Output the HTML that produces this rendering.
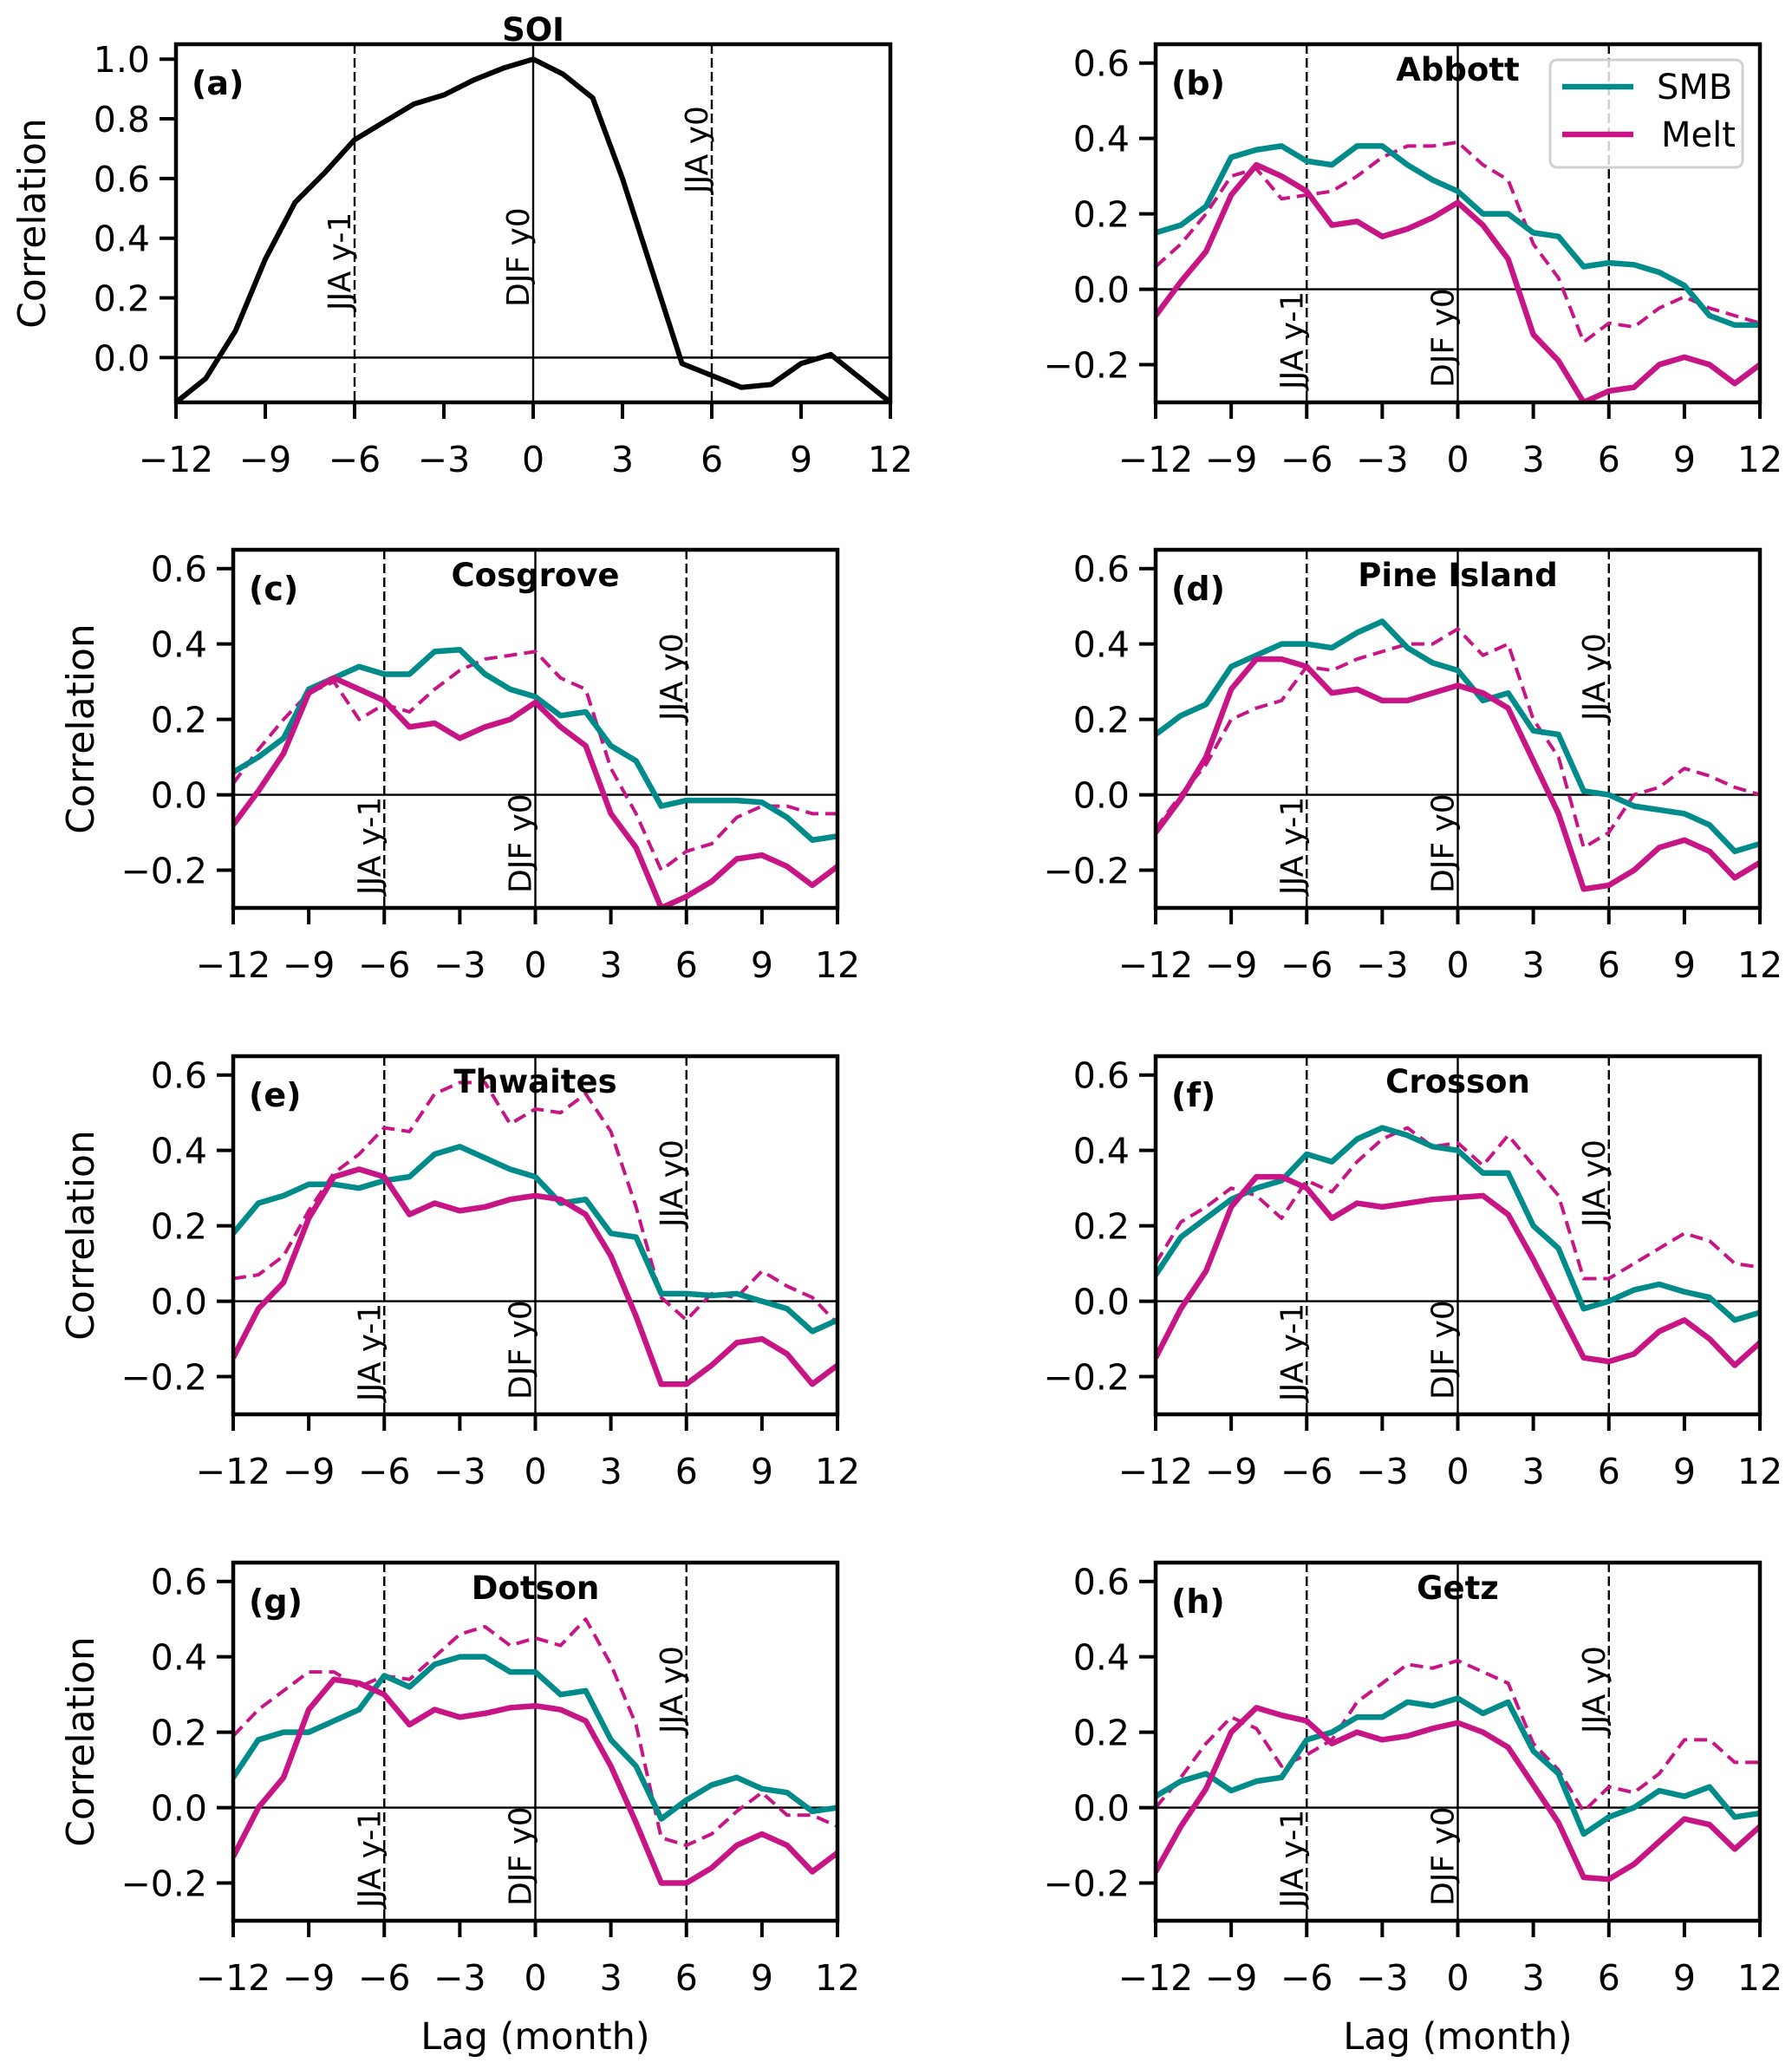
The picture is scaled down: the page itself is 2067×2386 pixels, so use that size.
<!DOCTYPE html>
<html><head><meta charset="utf-8"><style>
html,body{margin:0;padding:0;background:#fff;}
svg{display:block;font-family:"DejaVu Sans","Liberation Sans",sans-serif;}
</style></head><body>
<svg id="fig" width="2067" height="2386" viewBox="0 0 2067 2386" xmlns="http://www.w3.org/2000/svg"></svg>
<script>
const lags = [-12,-11,-10,-9,-8,-7,-6,-5,-4,-3,-2,-1,0,1,2,3,4,5,6,7,8,9,10,11,12];
const xTicks = [-12,-9,-6,-3,0,3,6,9,12];
const yTicksSOI = [0.0,0.2,0.4,0.6,0.8,1.0];
const yTicksIce = [-0.2,0.0,0.2,0.4,0.6];
const panelNames = ["Abbott","Cosgrove","Pine Island","Thwaites","Crosson","Dotson","Getz"];
const soi = [-0.15,-0.07,0.09,0.33,0.52,0.62,0.73,0.79,0.85,0.88,0.93,0.97,1.0,0.95,0.87,0.6,0.29,-0.02,-0.06,-0.1,-0.09,-0.02,0.01,-0.07,-0.15];
const smbB = [0.15,0.17,0.22,0.35,0.37,0.38,0.34,0.33,0.38,0.38,0.33,0.29,0.26,0.2,0.2,0.15,0.14,0.06,0.07,0.065,0.045,0.01,-0.07,-0.095,-0.095];
const meltB = [-0.07,0.02,0.1,0.25,0.33,0.3,0.26,0.17,0.18,0.14,0.16,0.19,0.23,0.17,0.08,-0.12,-0.19,-0.3,-0.27,-0.26,-0.2,-0.18,-0.2,-0.25,-0.2];
const dashB = [0.06,0.12,0.2,0.3,0.32,0.24,0.25,0.26,0.3,0.35,0.38,0.38,0.39,0.33,0.29,0.12,0.03,-0.14,-0.09,-0.1,-0.05,-0.02,-0.05,-0.07,-0.09];
const smbC = [0.06,0.1,0.15,0.28,0.31,0.34,0.32,0.32,0.38,0.385,0.32,0.28,0.26,0.21,0.22,0.13,0.09,-0.03,-0.015,-0.015,-0.015,-0.02,-0.06,-0.12,-0.11];
const meltC = [-0.08,0.01,0.11,0.27,0.31,0.28,0.25,0.18,0.19,0.15,0.18,0.2,0.245,0.18,0.13,-0.05,-0.14,-0.3,-0.27,-0.23,-0.17,-0.16,-0.19,-0.24,-0.19];
const dashC = [0.03,0.12,0.2,0.27,0.3,0.2,0.24,0.22,0.28,0.33,0.36,0.37,0.38,0.31,0.28,0.07,-0.05,-0.2,-0.15,-0.13,-0.06,-0.03,-0.03,-0.05,-0.05];
const smbD = [0.16,0.21,0.24,0.34,0.37,0.4,0.4,0.39,0.43,0.46,0.39,0.35,0.33,0.25,0.27,0.17,0.16,0.01,0.0,-0.03,-0.04,-0.05,-0.08,-0.15,-0.13];
const meltD = [-0.1,-0.01,0.1,0.28,0.36,0.36,0.34,0.27,0.28,0.25,0.25,0.27,0.29,0.27,0.23,0.09,-0.05,-0.25,-0.24,-0.2,-0.14,-0.12,-0.15,-0.22,-0.18];
const dashD = [-0.09,0.0,0.08,0.2,0.23,0.25,0.34,0.33,0.36,0.38,0.4,0.4,0.44,0.37,0.4,0.2,0.1,-0.14,-0.1,0.0,0.02,0.07,0.05,0.02,0.0];
const smbE = [0.18,0.26,0.28,0.31,0.31,0.3,0.32,0.33,0.39,0.41,0.38,0.35,0.33,0.26,0.27,0.18,0.17,0.02,0.02,0.015,0.02,0.0,-0.02,-0.08,-0.05];
const meltE = [-0.15,-0.02,0.05,0.22,0.33,0.35,0.33,0.23,0.26,0.24,0.25,0.27,0.28,0.27,0.23,0.12,-0.04,-0.22,-0.22,-0.17,-0.11,-0.1,-0.14,-0.22,-0.17];
const dashE = [0.06,0.07,0.12,0.24,0.34,0.39,0.46,0.45,0.55,0.58,0.58,0.47,0.51,0.5,0.55,0.45,0.25,0.01,-0.05,0.02,0.01,0.08,0.04,0.01,-0.06];
const smbF = [0.07,0.17,0.22,0.27,0.3,0.32,0.39,0.37,0.43,0.46,0.44,0.41,0.4,0.34,0.34,0.2,0.14,-0.02,0.0,0.03,0.045,0.025,0.01,-0.05,-0.03];
const meltF = [-0.15,-0.02,0.08,0.25,0.33,0.33,0.3,0.22,0.26,0.25,0.26,0.27,0.275,0.28,0.23,0.11,-0.02,-0.15,-0.16,-0.14,-0.08,-0.05,-0.1,-0.17,-0.11];
const dashF = [0.1,0.21,0.25,0.3,0.28,0.22,0.32,0.29,0.37,0.43,0.46,0.41,0.42,0.36,0.44,0.36,0.28,0.06,0.06,0.1,0.14,0.18,0.16,0.1,0.09];
const smbG = [0.08,0.18,0.2,0.2,0.23,0.26,0.35,0.32,0.38,0.4,0.4,0.36,0.36,0.3,0.31,0.18,0.11,-0.03,0.02,0.06,0.08,0.05,0.04,-0.01,0.0];
const meltG = [-0.13,0.0,0.08,0.26,0.34,0.33,0.3,0.22,0.26,0.24,0.25,0.265,0.27,0.26,0.23,0.11,-0.04,-0.2,-0.2,-0.16,-0.1,-0.07,-0.1,-0.17,-0.12];
const dashG = [0.19,0.26,0.31,0.36,0.36,0.32,0.35,0.34,0.4,0.46,0.48,0.43,0.45,0.43,0.5,0.38,0.22,-0.08,-0.1,-0.07,-0.01,0.04,-0.02,-0.02,-0.05];
const smbH = [0.03,0.07,0.09,0.045,0.07,0.08,0.18,0.2,0.24,0.24,0.28,0.27,0.29,0.25,0.28,0.15,0.09,-0.07,-0.025,0.0,0.045,0.03,0.055,-0.025,-0.015];
const meltH = [-0.17,-0.05,0.05,0.2,0.265,0.245,0.23,0.17,0.2,0.18,0.19,0.21,0.225,0.2,0.16,0.06,-0.04,-0.185,-0.19,-0.15,-0.09,-0.03,-0.045,-0.11,-0.05];
const dashH = [0.0,0.08,0.17,0.24,0.21,0.11,0.14,0.18,0.28,0.33,0.38,0.37,0.39,0.36,0.33,0.17,0.1,-0.01,0.055,0.04,0.09,0.18,0.18,0.12,0.12];

const NS = "http://www.w3.org/2000/svg";
const svg = document.getElementById('fig');
function mk(tag, attrs, parent){
  const e = document.createElementNS(NS, tag);
  for (const k in attrs) e.setAttribute(k, attrs[k]);
  (parent||svg).appendChild(e);
  return e;
}
const TEAL = "#008b8b", MAG = "#c71585";
const fmtX = v => v < 0 ? "\u2212" + Math.abs(v) : String(v);
const fmtY = v => (v < 0 ? "\u2212" : "") + Math.abs(v).toFixed(1);

function panel(cfg){
  const g = mk('g', {});
  
  
  const L = cfg.x0, R = cfg.x1, T = cfg.y0, B = cfg.y0 + 413;
  const xs = v => L + (v + 12) / 24 * (R - L);
  const ys = v => B - (v - cfg.ymin) / (cfg.ymax - cfg.ymin) * (B - T);
  const z = mk('line', {x1:L, x2:R, y1:ys(0), y2:ys(0), stroke:'#000', 'stroke-width':2.4}, g);
  
  
  [[-6,true],[0,false],[6,true]].forEach(([v,d])=>{
    const l = mk('line', {x1:xs(v), x2:xs(v), y1:T, y2:B, stroke:'#000', 'stroke-width':2.4, 'stroke-dasharray': d ? '11,5' : 'none'}, g);
    
    
  });
  const labs = [[-6, 'JJA y-1', cfg.jjaBot], [0, 'DJF y0', cfg.djfBot]];
  if (cfg.showJJA0) labs.push([6, 'JJA y0', cfg.jja0Bot]);
  labs.forEach(([v,t,yb])=>{
    const tx = mk('text', {x:0, y:0, 'font-size':36, 'text-anchor':'start', transform:`translate(${xs(v)-5},${yb}) rotate(-90)`}, g);
    tx.textContent = t;
    
    
  });
  const clip = mk('clipPath', {id:'clip-'+cfg.id}, g);
  mk('rect', {x:L, y:T, width:R-L, height:B-T}, clip);
  const sg = mk('g', {'clip-path':'url(#clip-'+cfg.id+')'}, g);
  
  
  const line2 = (arr, col, w, dash, name) => {
    const p = mk('polyline', {points: lags.map((x,i)=>xs(x)+','+ys(arr[i])).join(' '), fill:'none', stroke:col, 'stroke-width':w, 'stroke-linejoin':'round', 'stroke-dasharray':dash||'none'}, sg);
    
    
  };
  if (cfg.soi) line2(cfg.soi, '#000', 6, null, 'soi-line');
  if (cfg.dash) line2(cfg.dash, MAG, 4, '15,8', 'melt-dashed-line');
  if (cfg.smb) line2(cfg.smb, TEAL, 6.5, null, 'smb-line');
  if (cfg.melt) line2(cfg.melt, MAG, 6.5, null, 'melt-line');
  const fr = mk('rect', {x:L, y:T, width:R-L, height:B-T, fill:'none', stroke:'#000', 'stroke-width':4.5}, g);
  
  
  xTicks.forEach(v=>{
    const t = mk('line', {x1:xs(v), x2:xs(v), y1:B, y2:B+19, stroke:'#000', 'stroke-width':4}, g);
    
    
    const tl = mk('text', {x:xs(v), y:B+80, 'font-size':41, 'text-anchor':'middle'}, g);
    tl.textContent = fmtX(v);
    
    
  });
  cfg.yt.forEach(v=>{
    const t = mk('line', {x1:L-19, x2:L, y1:ys(v), y2:ys(v), stroke:'#000', 'stroke-width':4}, g);
    
    
    const tl = mk('text', {x:L-30, y:ys(v)+15, 'font-size':41, 'text-anchor':'end'}, g);
    tl.textContent = fmtY(v);
    
    
  });
  const ti = mk('text', {x:(L+R)/2, y: cfg.soi ? T-4 : T+42, 'font-size':37, 'font-weight':'bold', 'text-anchor':'middle'}, g);
  ti.textContent = cfg.title;
  
  
  const le = mk('text', {x:L+18, y:T+58, 'font-size':38, 'font-weight':'bold'}, g);
  le.textContent = '(' + cfg.id + ')';
  
  
  if (cfg.ylab) {
    const yl = mk('text', {x:0, y:0, 'font-size':44, 'text-anchor':'middle', transform:`translate(${cfg.ylabX},${(T+B)/2}) rotate(-90)`}, g);
    yl.textContent = 'Correlation';
    
    
  }
  if (cfg.xlab) {
    const xl = mk('text', {x:(L+R)/2, y:B+148, 'font-size':43, 'text-anchor':'middle'}, g);
    xl.textContent = 'Lag (month)';
    
    
  }
  return g;
}

const LC = [269, 966], RC = [1333, 2030];
const rows = [51, 634, 1218, 1802];
const common = {ymin:-0.3, ymax:0.65, yt:yTicksIce, showJJA0:true};
function rowText(T){ return {jjaBot:T+398, djfBot:T+396, jja0Bot:T+197}; }

panel(Object.assign({id:'a', title:'SOI', x0:203, x1:1027, y0:51, ymin:-0.15, ymax:1.05, yt:yTicksSOI, soi:soi, ylab:true, ylabX:52, showJJA0:true, jjaBot:358, djfBot:354, jja0Bot:223}));
panel(Object.assign({}, common, rowText(rows[0]), {id:'b', title:panelNames[0], x0:RC[0], x1:RC[1], y0:rows[0], smb:smbB, melt:meltB, dash:dashB, showJJA0:false}));
panel(Object.assign({}, common, rowText(rows[1]), {id:'c', title:panelNames[1], x0:LC[0], x1:LC[1], y0:rows[1], smb:smbC, melt:meltC, dash:dashC, ylab:true, ylabX:108}));
panel(Object.assign({}, common, rowText(rows[1]), {id:'d', title:panelNames[2], x0:RC[0], x1:RC[1], y0:rows[1], smb:smbD, melt:meltD, dash:dashD}));
panel(Object.assign({}, common, rowText(rows[2]), {id:'e', title:panelNames[3], x0:LC[0], x1:LC[1], y0:rows[2], smb:smbE, melt:meltE, dash:dashE, ylab:true, ylabX:108}));
panel(Object.assign({}, common, rowText(rows[2]), {id:'f', title:panelNames[4], x0:RC[0], x1:RC[1], y0:rows[2], smb:smbF, melt:meltF, dash:dashF}));
panel(Object.assign({}, common, rowText(rows[3]), {id:'g', title:panelNames[5], x0:LC[0], x1:LC[1], y0:rows[3], smb:smbG, melt:meltG, dash:dashG, ylab:true, ylabX:108, xlab:true}));
panel(Object.assign({}, common, rowText(rows[3]), {id:'h', title:panelNames[6], x0:RC[0], x1:RC[1], y0:rows[3], smb:smbH, melt:meltH, dash:dashH, xlab:true}));

const lg = mk('g', {});


mk('rect', {x:1788, y:69, width:222, height:124, rx:8, fill:'#fff', 'fill-opacity':0.8, stroke:'#d0d0d0', 'stroke-width':3}, lg);
const le1 = mk('line', {x1:1802, x2:1884, y1:100, y2:100, stroke:TEAL, 'stroke-width':6.5}, lg);


const lt1 = mk('text', {x:1911, y:114, 'font-size':40}, lg);
lt1.textContent = 'SMB';


const le2 = mk('line', {x1:1802, x2:1884, y1:155, y2:155, stroke:MAG, 'stroke-width':6.5}, lg);


const lt2 = mk('text', {x:1916, y:169, 'font-size':40}, lg);
lt2.textContent = 'Melt';


</script>
</body></html>
